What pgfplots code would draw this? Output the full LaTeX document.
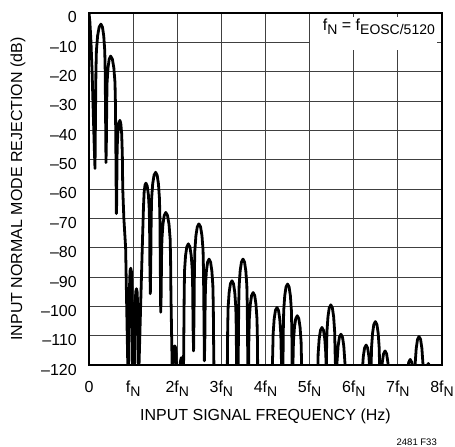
\documentclass[border=0pt]{standalone}
\usepackage{fontspec}
\setmainfont{Liberation Sans}
\usepackage{pgfplots}
\pgfplotsset{compat=1.18}
\newcommand{\sub}[1]{\raisebox{-4bp}{\fontsize{14bp}{14bp}\selectfont #1}}
\begin{document}
\begin{tikzpicture}
\begin{axis}[
 scale only axis, width=353bp, height=352bp,
 xmin=0, xmax=8, ymin=-120, ymax=0,
 xtick={0,1,...,8},
 xticklabels={0, f\sub{N}, 2f\sub{N}, 3f\sub{N}, 4f\sub{N}, 5f\sub{N}, 6f\sub{N}, 7f\sub{N}, 8f\sub{N}},
 ytick={-120,-110,...,0},
 yticklabels={--120,--110,--100,--90,--80,--70,--60,--50,--40,--30,--20,--10,0},
 grid=major,
 major grid style={black!75, line width=0.9bp},
 major tick length=0pt,
 axis line style={black, line width=1.4bp},
 tick label style={font=\fontsize{16bp}{18bp}\selectfont},
 xticklabel style={anchor=base, inner sep=0pt, yshift=-27bp},
 yticklabel style={anchor=base east, inner sep=0pt, xshift=-12bp, yshift=-10bp},
 xlabel={INPUT SIGNAL FREQUENCY (Hz)},
 ylabel={INPUT NORMAL MODE REJECTION (dB)},
 label style={font=\fontsize{16bp}{18bp}\selectfont},
 xlabel style={at={(axis description cs:0.5,-0.1563)}, anchor=base, inner sep=0pt},
 ylabel style={at={(axis description cs:-0.2011,0.5)}, anchor=center, inner sep=0pt},
]
\addplot[black, line width=2.8bp, line join=round, line cap=round] coordinates {
(0,0) (0.02,-3) (0.045,-10) (0.07,-20) (0.095,-33) (0.118,-45) (0.136,-53)
(0.149,-31.8) (0.157,-19.8) (0.168,-12.8) (0.195,-7.8) (0.230,-4.8) (0.27,-3.8) (0.305,-4.8) (0.334,-7.8) (0.357,-12.8) (0.367,-19.8) (0.374,-31.8) (0.385,-51)
(0.395,-42.7) (0.402,-30.7) (0.41,-23.7) (0.431,-18.7) (0.458,-15.7) (0.49,-14.7) (0.529,-15.7) (0.563,-18.7) (0.589,-23.7) (0.599,-30.7) (0.607,-42.7) (0.62,-68.4)
(0.628,-64.6) (0.633,-52.6) (0.639,-45.6) (0.655,-40.6) (0.676,-37.6) (0.70,-36.6) (0.72,-37.6) (0.74,-41) (0.755,-48) (0.765,-60) (0.79,-70) (0.83,-80) (0.885,-125)
(0.90,-125) (0.915,-95) (0.93,-88) (0.945,-87) (0.96,-88) (0.975,-95) (0.99,-125)
(1.03,-125) (1.045,-100) (1.06,-95) (1.075,-94) (1.09,-95) (1.105,-100) (1.12,-125)
(1.125,-125) (1.17,-100) (1.215,-76) (1.235,-66) (1.25,-61) (1.27,-58.6) (1.29,-58) (1.32,-59) (1.346,-62) (1.366,-67) (1.374,-74) (1.38,-86) (1.39,-95.7)
(1.402,-82.3) (1.409,-70.3) (1.419,-63.3) (1.443,-58.3) (1.474,-55.3) (1.51,-54.3) (1.545,-55.3) (1.574,-58.3) (1.597,-63.3) (1.607,-70.3) (1.614,-82.3) (1.625,-102)
(1.636,-96) (1.643,-84) (1.653,-77) (1.676,-72) (1.705,-69) (1.74,-68) (1.779,-69) (1.813,-72) (1.839,-77) (1.849,-84) (1.857,-96) (1.875,-112) (1.89,-125)
(1.90,-125) (1.915,-116) (1.93,-114) (1.945,-113.5) (1.96,-114) (1.975,-116) (1.99,-125)
(2.05,-125) (2.07,-119) (2.09,-117.5) (2.11,-119) (2.13,-125)
(2.14,-125) (2.151,-106.7) (2.158,-94.7) (2.166,-87.7) (2.188,-82.7) (2.217,-79.7) (2.25,-78.7) (2.286,-79.7) (2.317,-82.7) (2.341,-87.7) (2.351,-94.7) (2.358,-106.7) (2.37,-115.2)
(2.382,-99.9) (2.389,-87.9) (2.399,-80.9) (2.423,-75.9) (2.454,-72.9) (2.49,-71.9) (2.528,-72.9) (2.56,-75.9) (2.585,-80.9) (2.595,-87.9) (2.603,-99.9) (2.615,-118.6)
(2.625,-111.9) (2.632,-99.9) (2.64,-92.9) (2.661,-87.9) (2.689,-84.9) (2.72,-83.9) (2.755,-84.9) (2.784,-87.9) (2.807,-92.9) (2.817,-99.9) (2.824,-111.9) (2.835,-125)
(3.125,-125) (3.136,-119.3) (3.143,-107.3) (3.153,-100.3) (3.176,-95.3) (3.205,-92.3) (3.24,-91.3) (3.275,-92.3) (3.304,-95.3) (3.327,-100.3) (3.337,-107.3) (3.344,-119.3) (3.355,-125)
(3.375,-125) (3.386,-111.9) (3.393,-99.9) (3.403,-92.9) (3.426,-87.9) (3.455,-84.9) (3.49,-83.9) (3.525,-84.9) (3.554,-87.9) (3.577,-92.9) (3.587,-99.9) (3.594,-111.9) (3.605,-125)
(3.616,-123.3) (3.623,-111.3) (3.633,-104.3) (3.656,-99.3) (3.685,-96.3) (3.72,-95.3) (3.755,-96.3) (3.784,-99.3) (3.807,-104.3) (3.817,-111.3) (3.824,-123.3) (3.835,-125)
(4.145,-125) (4.163,-116.4) (4.173,-109.4) (4.196,-104.4) (4.225,-101.4) (4.26,-100.4) (4.295,-101.4) (4.324,-104.4) (4.347,-109.4) (4.357,-116.4) (4.375,-125)
(4.385,-125) (4.396,-120.4) (4.403,-108.4) (4.413,-101.4) (4.436,-96.4) (4.465,-93.4) (4.50,-92.4) (4.535,-93.4) (4.564,-96.4) (4.587,-101.4) (4.597,-108.4) (4.604,-120.4) (4.61,-125)
(4.623,-119.2) (4.633,-112.2) (4.656,-107.2) (4.685,-104.2) (4.72,-103.2) (4.755,-104.2) (4.784,-107.2) (4.807,-112.2) (4.817,-119.2) (4.835,-125)
(5.165,-125) (5.183,-123.2) (5.193,-116.2) (5.216,-111.2) (5.245,-108.2) (5.28,-107.2) (5.315,-108.2) (5.344,-111.2) (5.367,-116.2) (5.377,-123.2) (5.38,-125)
(5.383,-115.5) (5.393,-108.5) (5.416,-103.5) (5.445,-100.5) (5.48,-99.5) (5.515,-100.5) (5.544,-103.5) (5.567,-108.5) (5.577,-115.5) (5.595,-125)
(5.623,-118.5) (5.646,-113.5) (5.675,-110.5) (5.71,-109.5) (5.745,-110.5) (5.774,-113.5) (5.797,-118.5) (5.825,-125)
(6.165,-125) (6.193,-122.2) (6.216,-117.2) (6.245,-114.2) (6.28,-113.2) (6.315,-114.2) (6.344,-117.2) (6.367,-122.2) (6.38,-125)
(6.393,-121.2) (6.403,-114.2) (6.426,-109.2) (6.455,-106.2) (6.49,-105.2) (6.525,-106.2) (6.554,-109.2) (6.577,-114.2) (6.587,-121.2) (6.6,-125)
(6.623,-124.2) (6.646,-119.2) (6.675,-116.2) (6.71,-115.2) (6.745,-116.2) (6.774,-119.2) (6.797,-124.2) (6.825,-125)
(7.165,-125) (7.216,-122.1) (7.245,-119.1) (7.28,-118.1) (7.315,-119.1) (7.344,-122.1) (7.38,-125)
(7.393,-119.3) (7.416,-114.3) (7.445,-111.3) (7.48,-110.3) (7.515,-111.3) (7.544,-114.3) (7.567,-119.3) (7.585,-125)
(7.626,-123.5) (7.655,-120.5) (7.69,-119.5) (7.725,-120.5) (7.754,-123.5) (7.8,-125) (8,-125)
};
\fill[white] (axis cs:5.01,-1.4) rectangle (axis cs:7.89,-12.6);
\node[anchor=base, inner sep=0pt, font=\fontsize{16bp}{18bp}\selectfont] at (axis cs:6.57,-5.98) {f\sub{N} = f\sub{EOSC/5120}};
\end{axis}
\node[anchor=base east, inner sep=0pt, font=\fontsize{9.5bp}{11bp}\selectfont] at ([xshift=348bp,yshift=-80bp]current axis.south west) {2481 F33};
\pgfresetboundingbox
\path ([xshift=-89bp,yshift=-82bp]current axis.south west) rectangle ([xshift=366bp,yshift=365bp]current axis.south west);
\end{tikzpicture}
\end{document}
